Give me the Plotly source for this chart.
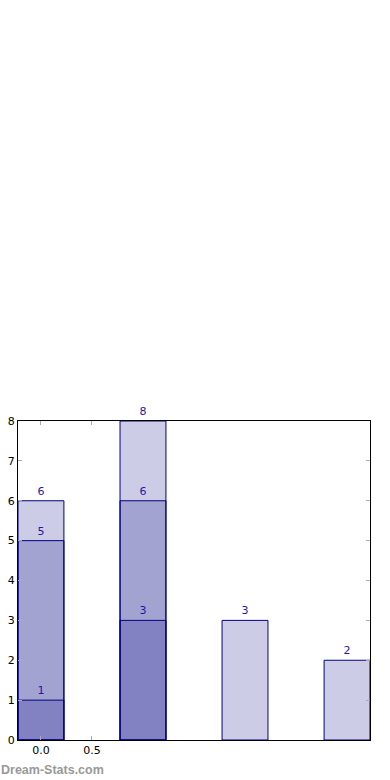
import plotly.graph_objects as go

x_all = [0, 1, 2, 3]
series_a = [6, 8, 3, 2]
x_b = [0, 1]
series_b = [5, 6]
x_c = [0, 1]
series_c = [1, 3]
xtick_vals = [0, 0.5]
xtick_text = ["0.0", "0.5"]

fill = "rgba(0,0,128,0.2)"
edge = "#000080"
lab = "#1a1aa6"

fig = go.Figure()
for xs, ys in [(x_all, series_a), (x_b, series_b), (x_c, series_c)]:
    fig.add_trace(go.Bar(
        x=xs, y=ys, width=0.45,
        marker=dict(color=fill, line=dict(color=edge, width=1)),
        text=[str(v) for v in ys], textposition="outside",
        textfont=dict(color=lab, size=11, family="DejaVu Sans"),
        cliponaxis=False, showlegend=False,
    ))

fig.update_layout(
    barmode="overlay",
    width=390, height=780,
    margin=dict(l=18, r=20, t=421, b=40, autoexpand=False),
    paper_bgcolor="white", plot_bgcolor="white",
    font=dict(family="DejaVu Sans", size=11, color="black"),
    xaxis=dict(range=[-0.225, 3.225], tickvals=xtick_vals, ticktext=xtick_text,
               ticks="inside", ticklen=4, tickcolor="#aaaaaa", showgrid=False,
               showline=True, linecolor="black", linewidth=1, mirror="ticks",
               zeroline=False, tickfont=dict(size=11), automargin=False),
    yaxis=dict(range=[0, 8], dtick=1, ticks="inside", ticklen=4, tickcolor="#aaaaaa",
               showgrid=False, showline=True, linecolor="black", linewidth=1,
               mirror="ticks", zeroline=False, tickfont=dict(size=11), automargin=False),
)
fig.add_annotation(text="<b>Dream-Stats.com</b>", xref="paper", yref="paper",
                   x=0, y=0, xanchor="left", yanchor="middle", xshift=-19, yshift=-30,
                   showarrow=False, font=dict(size=12.5, color="#999999", family="Liberation Sans"))
fig.write_html("out.html", config={"displayModeBar": False},
               post_script="document.body.style.margin='0';document.body.style.overflow='hidden';")
